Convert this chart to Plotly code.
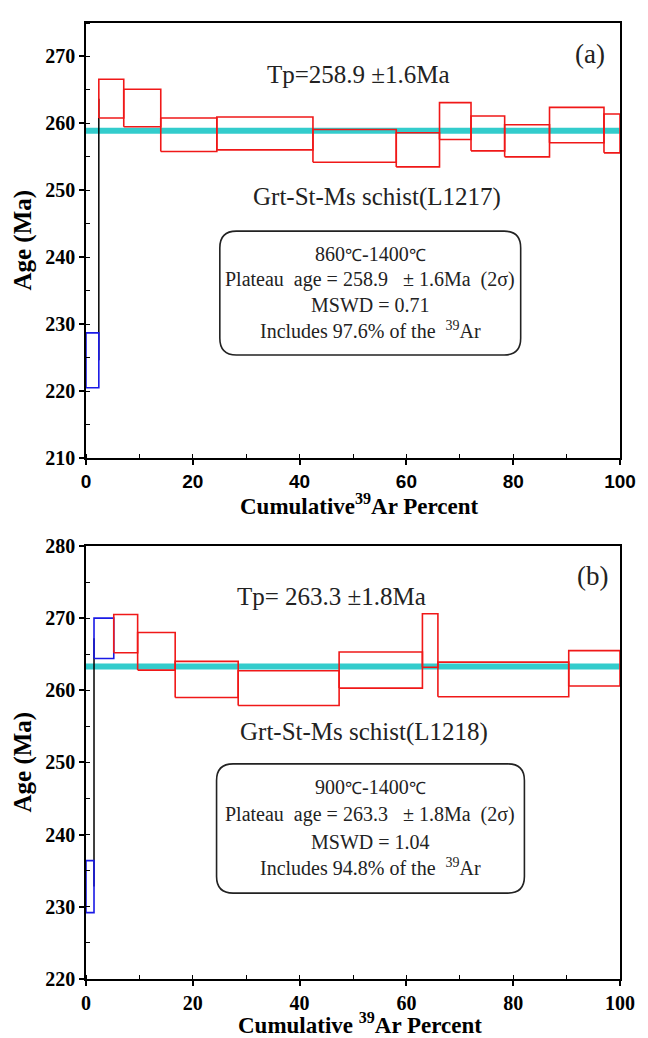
import plotly.graph_objects as go

# ---- Sample L1217 (panel a) ----
cum_a = [0, 2.4, 7.07, 14.0, 24.5, 42.5, 58.1, 66.2, 72.1, 78.4, 86.8, 97.0, 100]
age_a = [224.6, 263.7, 262.3, 258.3, 258.5, 256.65, 256.05, 260.35, 258.5, 257.4, 259.75, 258.5]
err_a = [4.1, 2.9, 2.8, 2.5, 2.45, 2.45, 2.55, 2.75, 2.6, 2.4, 2.65, 2.9]
plateau_a = 258.9
plateau_err_a = 1.6
plateau_start_a = 1          # first heating step inside the plateau
mswd_a = "0.71"
incl_a = "97.6"
temp_a = ("860", "1400")

# ---- Sample L1218 (panel b) ----
cum_b = [0, 1.5, 5.2, 9.67, 16.7, 28.5, 47.4, 63.0, 65.9, 90.4, 100]
age_b = [232.8, 267.2, 267.85, 265.4, 261.5, 260.3, 262.8, 266.9, 261.5, 263.05]
err_b = [3.6, 2.8, 2.65, 2.6, 2.5, 2.4, 2.5, 3.7, 2.4, 2.45]
plateau_b = 263.3
plateau_err_b = 1.8
plateau_start_b = 2
mswd_b = "1.04"
incl_b = "94.8"
temp_b = ("900", "1400")

x_ticks = [0, 20, 40, 60, 80, 100]
y_range_a = [210, 275]
y_range_b = [220, 280]

RED = "#F01818"
BLUE = "#1A1AE6"
CYAN = "#33CCCC"
INK = "#222222"
SERIF = "Liberation Serif, Times New Roman, serif"
SANS = "Liberation Sans, Arial, sans-serif"


def outlines(cum, age, err, steps):
    xs, ys = [], []
    for i in steps:
        lo, hi = age[i] - err[i], age[i] + err[i]
        xs += [cum[i], cum[i + 1], cum[i + 1], cum[i], cum[i], None]
        ys += [lo, lo, hi, hi, lo, None]
    return xs, ys


def add_panel(fig, cum, age, err, start, plateau, xa, ya):
    n = len(age)
    # plateau age band
    fig.add_trace(go.Scatter(x=[cum[0], cum[-1]], y=[plateau, plateau], mode="lines",
                             line=dict(color=CYAN, width=6), xaxis=xa, yaxis=ya,
                             hoverinfo="skip"))
    # link between the first two steps
    fig.add_trace(go.Scatter(x=[cum[1], cum[1]], y=[age[0], age[1]], mode="lines",
                             line=dict(color="black", width=1.5), xaxis=xa, yaxis=ya))
    bx, by = outlines(cum, age, err, range(0, start))
    fig.add_trace(go.Scatter(x=bx, y=by, mode="lines", line=dict(color=BLUE, width=1.6),
                             xaxis=xa, yaxis=ya))
    rx, ry = outlines(cum, age, err, range(start, n))
    fig.add_trace(go.Scatter(x=rx, y=ry, mode="lines", line=dict(color=RED, width=1.6),
                             xaxis=xa, yaxis=ya))


def rounded_path(x0, x1, y0, y1, rx, ry):
    return (f"M {x0+rx},{y1} L {x1-rx},{y1} Q {x1},{y1} {x1},{y1-ry} "
            f"L {x1},{y0+ry} Q {x1},{y0} {x1-rx},{y0} L {x0+rx},{y0} "
            f"Q {x0},{y0} {x0},{y0+ry} L {x0},{y1-ry} Q {x0},{y1} {x0+rx},{y1} Z")


fig = go.Figure()
add_panel(fig, cum_a, age_a, err_a, plateau_start_a, plateau_a, "x", "y")
add_panel(fig, cum_b, age_b, err_b, plateau_start_b, plateau_b, "x2", "y2")


def axis_common():
    return dict(showline=True, linecolor="black", linewidth=1.6, mirror=True,
                showgrid=False, zeroline=False, ticks="outside", ticklen=5,
                tickwidth=1.5, tickcolor="black")


def minor(dt):
    return dict(dtick=dt, ticks="inside", ticklen=4, tickwidth=1.3, tickcolor="black")


fig.update_layout(
    width=648, height=1038,
    margin=dict(l=86, r=20.5, t=14, b=59.3),
    paper_bgcolor="white", plot_bgcolor="white",
    showlegend=False,
    xaxis=dict(**axis_common(), domain=[0, 1], anchor="y", range=[0, 100],
               tickvals=x_ticks, minor=minor(10),
               tickfont=dict(family=SANS, size=19, color="black", weight="bold")),
    yaxis=dict(**axis_common(), domain=[0.5449, 1], anchor="x", range=y_range_a,
               dtick=10, minor=minor(5),
               tickfont=dict(family=SERIF, size=20, color="black", weight="bold")),
    xaxis2=dict(**axis_common(), domain=[0, 1], anchor="y2", range=[0, 100],
                tickvals=x_ticks, minor=minor(10),
                tickfont=dict(family=SERIF, size=20, color="black", weight="bold")),
    yaxis2=dict(**axis_common(), domain=[0, 0.453], anchor="x2", range=y_range_b,
                dtick=10, minor=minor(5),
                tickfont=dict(family=SERIF, size=20, color="black", weight="bold")),
)


def text(xref, yref, x, y, s, size, **kw):
    fig.add_annotation(xref=xref, yref=yref, x=x, y=y, text=s, showarrow=False,
                       xanchor="center", yanchor="middle",
                       font=dict(family=SERIF, size=size, color=INK), **kw)


def axis_titles(xd, yd, xshift_title, yshift_title, space):
    fig.add_annotation(xref=f"{xd} domain", yref=f"{yd} domain", x=0.513, y=0,
                       xanchor="center", yanchor="middle",
                       yshift=yshift_title, showarrow=False,
                       text=f"Cumulative{space}<sup>39</sup>Ar Percent",
                       font=dict(family=SERIF, size=23, color="black", weight="bold"))
    fig.add_annotation(xref=f"{xd} domain", yref=f"{yd} domain", x=0, y=0.5,
                       xanchor="center", yanchor="middle",
                       xshift=xshift_title, textangle=-90, showarrow=False,
                       text="Age (Ma)",
                       font=dict(family=SERIF, size=25, color="black", weight="bold"))


def deg(s):
    return f"{s}<span style='font-size:17px'>℃</span>"


def info_panel(xa, ya, tp, tp_err, panel, sample, temp, mswd, incl, pos):
    xref, yref = xa, ya
    text(xref, yref, pos["tp"][0], pos["tp"][1],
         f"Tp={pos['tpsp']}{tp:.1f} ±{tp_err:.1f}Ma", 25)
    text(xref, yref, pos["tag"][0], pos["tag"][1], f"({panel})", 27)
    text(xref, yref, pos["label"][0], pos["label"][1], f"Grt-St-Ms schist({sample})", 25)
    x0, x1, y0, y1 = pos["box"]
    fig.add_shape(type="path", xref=xref, yref=yref,
                  path=rounded_path(x0, x1, y0, y1, pos["r"][0], pos["r"][1]),
                  line=dict(color=INK, width=1.6))
    lines = [f"{deg(temp[0])}-{deg(temp[1])}",
             f"Plateau\u00a0 age = {tp:.1f}\u00a0\u00a0 ± {tp_err:.1f}Ma\u00a0 (2σ)",
             f"MSWD = {mswd}",
             f"Includes {incl}% of the\u00a0 <sup>39</sup>Ar"]
    for s, yy in zip(lines, pos["lines"]):
        text(xref, yref, pos["cx"], yy, s, 20)


info_panel("x", "y", plateau_a, plateau_err_a, "a", "L1217", temp_a, mswd_a, incl_a,
           dict(tp=(51.0, 267.3), tpsp="", tag=(94.4, 270.4), label=(54.5, 249.0),
                box=(25.06, 81.4, 225.4, 243.9), r=(3.1, 2.5), cx=53.2,
                lines=[240.5, 236.7, 232.9, 229.2]))
info_panel("x2", "y2", plateau_b, plateau_err_b, "b", "L1218", temp_b, mswd_b, incl_b,
           dict(tp=(46.0, 273.0), tpsp=" ", tag=(94.8, 275.9), label=(52.1, 254.2),
                box=(24.45, 82.1, 231.9, 249.8), r=(3.1, 2.3), cx=53.2,
                lines=[246.6, 242.85, 239.0, 235.5]))

axis_titles("x", "y", -63, -46, "")
axis_titles("x2", "y2", -63, -44, " ")

fig.write_html("out.html")
